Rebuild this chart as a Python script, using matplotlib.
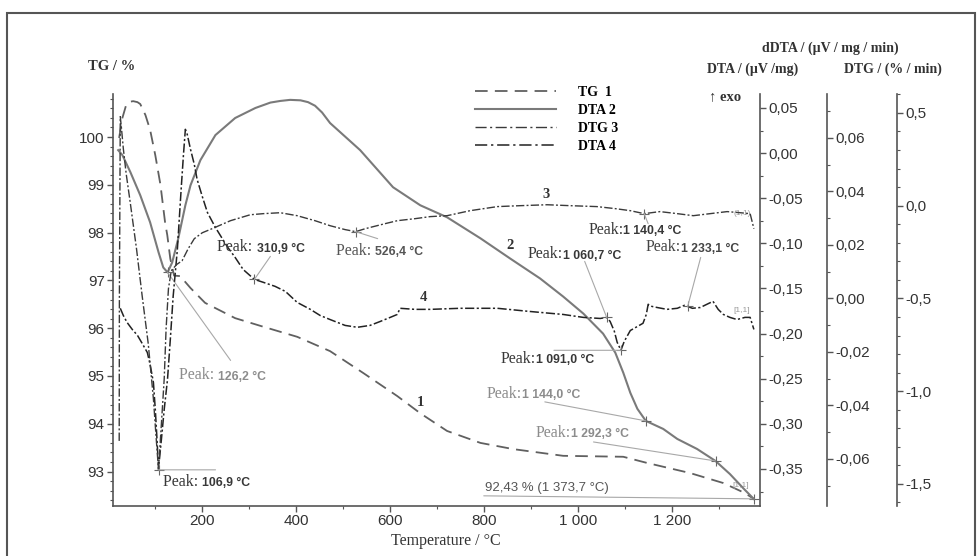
import numpy as np
import matplotlib
matplotlib.use("Agg")
import matplotlib.pyplot as plt
from matplotlib.lines import Line2D
from matplotlib.patches import Rectangle
from matplotlib.ticker import FixedLocator, FixedFormatter, MultipleLocator

SERIF = ["Liberation Serif", "DejaVu Serif"]
SANS = ["Liberation Sans", "DejaVu Sans"]

# curve 1: TG (%)
tg_temp = [23, 30, 38, 47, 53, 62, 68, 79, 89, 100, 111, 121, 125.5, 132, 140, 153, 175, 206, 270,
           330, 402, 472, 543, 615, 664, 721, 792, 862, 968, 1096, 1147, 1238, 1309, 1355, 1373.7]
tg_val = [99.98, 100.40, 100.67, 100.74, 100.75, 100.73, 100.69, 100.46, 100.15, 99.62, 99.00,
          98.20, 97.95, 97.45, 97.10, 97.09, 96.84, 96.53, 96.21, 96.03, 95.82, 95.52, 95.06, 94.58,
          94.22, 93.85, 93.60, 93.47, 93.33, 93.31, 93.18, 92.97, 92.76, 92.55, 92.43]

# curve 2: DTA (uV/mg)
dta_temp = [21, 30, 47, 68, 89, 107, 117, 126.2, 136, 149, 164, 175, 196, 228, 270, 313, 345, 366,
            387, 409, 425, 440, 455, 472, 536, 606, 664, 721, 792, 855, 919, 968, 1011, 1053, 1079,
            1096, 1111, 1126, 1144, 1181, 1211, 1253, 1292.3, 1323, 1351, 1374]
dta_val = [0.0033, -0.0022, -0.0211, -0.0467, -0.0767, -0.110, -0.1267, -0.1322, -0.1211, -0.0944,
           -0.0578, -0.0356, -0.0078, 0.020, 0.0389, 0.050, 0.0560, 0.0578, 0.0590, 0.0585, 0.0565,
           0.0525, 0.0450, 0.0333, 0.0033, -0.0378, -0.0578, -0.0711, -0.0944, -0.1167, -0.1389,
           -0.1589, -0.1778, -0.200, -0.2211, -0.2433, -0.2656, -0.2833, -0.2967, -0.3056,
           -0.3167, -0.3278, -0.3411, -0.3556, -0.3711, -0.3833]

# curve 3: DTG (%/min)
dtg_temp = [23.2, 23.6, 25.5, 27.7, 32, 38, 47, 60, 72, 85, 96, 102, 106.9, 111, 115, 119, 123,
            128, 134, 145, 157, 170, 183, 200, 221, 260, 302, 330, 366, 402, 440, 472, 504, 526.4,
            547, 564, 589, 615, 653, 685, 721, 770, 828, 877, 934, 983, 1040, 1079, 1111, 1140.4,
            1174, 1211, 1245, 1281, 1317, 1345, 1366, 1374]
dtg_val = [-1.268, -0.502, 0.480, 0.426, 0.307, 0.173, 0.011, -0.232, -0.485, -0.744, -1.041,
           -1.257, -1.424, -1.257, -1.095, -0.933, -0.663, -0.448, -0.351, -0.318, -0.297, -0.232,
           -0.178, -0.146, -0.124, -0.081, -0.049, -0.043, -0.038, -0.054, -0.081, -0.108, -0.129,
           -0.140, -0.124, -0.113, -0.097, -0.081, -0.070, -0.059, -0.054, -0.027, -0.005, 0.000,
           0.005, 0.000, -0.005, -0.016, -0.027, -0.043, -0.032, -0.043, -0.054, -0.043, -0.032,
           -0.038, -0.043, -0.124]

# curve 4: dDTA (uV/mg/min)
ddta_temp = [25.5, 32, 40, 51, 62, 72, 83, 89, 96, 100, 104, 106.9, 113, 119, 126, 132, 138, 147,
             155, 160, 164, 168, 175, 183, 189, 200, 211, 228, 253, 270, 287, 310.9, 330, 355, 377,
             402, 430, 451, 472, 504, 530, 557, 579, 600, 615, 621, 653, 685, 749, 828, 898, 968,
             1011, 1047, 1060.7, 1068, 1077, 1083, 1091.0, 1098, 1111, 1126, 1138, 1145, 1149, 1157,
             1168, 1189, 1211, 1226, 1233.1, 1243, 1260, 1274, 1287, 1298, 1309, 1323, 1338, 1355,
             1366, 1374]
ddta_val = [-0.0037, -0.0064, -0.0090, -0.0116, -0.0138, -0.0168, -0.0202, -0.0247, -0.0314,
            -0.0415, -0.0538, -0.0636, -0.0527, -0.0415, -0.0303, -0.0153, 0.0007, 0.0183, 0.0407,
            0.0538, 0.0632, 0.0613, 0.0557, 0.0501, 0.0445, 0.0381, 0.0321, 0.0265, 0.0194, 0.0153,
            0.0108, 0.0071, 0.0060, 0.0045, 0.0026, -0.0015, -0.0041, -0.0064, -0.0079, -0.0101,
            -0.0108, -0.0101, -0.0086, -0.0071, -0.0060, -0.0037, -0.0041, -0.0041, -0.0037,
            -0.0037, -0.0049, -0.0060, -0.0071, -0.0075, -0.0071, -0.0086, -0.0123, -0.0164,
            -0.0194, -0.0161, -0.0120, -0.0105, -0.0093, -0.0060, -0.0022, -0.0030, -0.0034,
            -0.0041, -0.0037, -0.0026, -0.0030, -0.0037, -0.0034, -0.0022, -0.0011, -0.0041,
            -0.0060, -0.0071, -0.0079, -0.0071, -0.0071, -0.0116]

x_ticks = [200, 400, 600, 800, 1000, 1200]
x_tick_labels = ["200", "400", "600", "800", "1 000", "1 200"]
tg_ticks = [93, 94, 95, 96, 97, 98, 99, 100]
tg_tick_labels = ["93", "94", "95", "96", "97", "98", "99", "100"]
dta_ticks = [-0.35, -0.30, -0.25, -0.20, -0.15, -0.10, -0.05, 0.00, 0.05]
dta_tick_labels = ["-0,35", "-0,30", "-0,25", "-0,20", "-0,15", "-0,10", "-0,05", "0,00", "0,05"]
ddta_ticks = [-0.06, -0.04, -0.02, 0.00, 0.02, 0.04, 0.06]
ddta_tick_labels = ["-0,06", "-0,04", "-0,02", "0,00", "0,02", "0,04", "0,06"]
dtg_ticks = [-1.5, -1.0, -0.5, 0.0, 0.5]
dtg_tick_labels = ["-1,5", "-1,0", "-0,5", "0,0", "0,5"]

legend_labels = ["TG  1", "DTA 2", "DTG 3", "DTA 4"]
curve_numbers = ["1", "2", "3", "4"]
curve_number_temp = [664, 855, 932, 670]
curve_number_tg = [94.44, 97.74, 98.79, 96.65]

# peaks: curve, temperature, prefix, value text
peak_curve = ["dtg", "dta", "ddta", "dtg", "ddta", "dtg", "ddta", "ddta", "dta", "dta"]
peak_temp = [106.9, 126.2, 310.9, 526.4, 1060.7, 1140.4, 1233.1, 1091.0, 1144.0, 1292.3]
peak_prefix = ["Peak: ", "Peak: ", "Peak: ", "Peak: ", "Peak:", "Peak:", "Peak:", "Peak:", "Peak:", "Peak:"]
peak_text = ["106,9 °C", "126,2 °C", "310,9 °C", "526,4 °C", "1 060,7 °C", "1 140,4 °C",
             "1 233,1 °C", "1 091,0 °C", "1 144,0 °C", "1 292,3 °C"]
tg_end_text = "92,43 % (1 373,7 °C)"

# layout of the peak labels (pixels from marker)
peak_text_off = [(4, -12), (11, -103), (-37, 32), (-20, -19), (-79, 63), (-56, -16),
                 (-42, 59), (-120, -9), (-159, 27), (-180, 28)]
peak_lead_off = [(57, 0), (63, -88), (16, 23), (22, -7), (-22, 56), (4, -10),
                 (13, 49), (-67, 0), (-101, 19), (-122, 19)]
peak_color = ["#383838", "#8c8c8c", "#383838", "#555555", "#383838", "#383838",
              "#444444", "#383838", "#8c8c8c", "#8c8c8c"]

fig = plt.figure(figsize=(9.8, 5.56), dpi=100)
ax = fig.add_axes([113 / 980, 1 - 506 / 556, 647 / 980, 412 / 556])
ax_dta = ax.twinx()
ax_ddta = ax.twinx()
ax_dtg = ax.twinx()
ax_ddta.spines["right"].set_position(("axes", 1.1036))
ax_dtg.spines["right"].set_position(("axes", 1.2117))

spine_col = "#555555"
for a in [ax, ax_dta, ax_ddta, ax_dtg]:
    for s in a.spines.values():
        s.set_color(spine_col)
        s.set_linewidth(1.2)
    a.spines["top"].set_visible(False)
for a in [ax_dta, ax_ddta, ax_dtg]:
    a.spines["left"].set_visible(False)
    a.spines["bottom"].set_visible(False)
ax.spines["right"].set_visible(False)

ax.set_xlim(10, 1387)
ax.set_ylim(92.28, 100.90)
ax_dta.set_ylim(-0.391, 0.0655)
ax_ddta.set_ylim(-0.0776, 0.0764)
ax_dtg.set_ylim(-1.619, 0.602)

ax.xaxis.set_major_locator(FixedLocator(x_ticks))
ax.xaxis.set_major_formatter(FixedFormatter(x_tick_labels))
ax.xaxis.set_minor_locator(MultipleLocator(100))
ax.yaxis.set_major_locator(FixedLocator(tg_ticks))
ax.yaxis.set_major_formatter(FixedFormatter(tg_tick_labels))
ax.yaxis.set_minor_locator(MultipleLocator(0.2))
ax_dta.yaxis.set_major_locator(FixedLocator(dta_ticks))
ax_dta.yaxis.set_major_formatter(FixedFormatter(dta_tick_labels))
ax_dta.yaxis.set_minor_locator(MultipleLocator(0.025))
ax_ddta.yaxis.set_major_locator(FixedLocator(ddta_ticks))
ax_ddta.yaxis.set_major_formatter(FixedFormatter(ddta_tick_labels))
ax_ddta.yaxis.set_minor_locator(MultipleLocator(0.01))
ax_dtg.yaxis.set_major_locator(FixedLocator(dtg_ticks))
ax_dtg.yaxis.set_major_formatter(FixedFormatter(dtg_tick_labels))
ax_dtg.yaxis.set_minor_locator(MultipleLocator(0.1))

for a in [ax, ax_dta, ax_ddta, ax_dtg]:
    a.tick_params(which="major", direction="out", length=4, width=1, color=spine_col,
                  labelcolor="#333333", labelsize=11, pad=2)
    a.tick_params(which="minor", direction="out", length=2.5, width=0.8, color=spine_col)
    for lab in a.get_xticklabels() + a.get_yticklabels():
        lab.set_family(SANS)

dashdot = (6, 1.6, 1.4, 1.6)
ax.plot(tg_temp, tg_val, color="#606060", lw=1.3, dashes=(7, 4))
ax_dta.plot(dta_temp, dta_val, color="#7a7a7a", lw=1.5)
ax_dtg.plot(dtg_temp, dtg_val, color="#3a3a3a", lw=1.0, dashes=dashdot)
ax_ddta.plot(ddta_temp, ddta_val, color="#222222", lw=1.1, dashes=dashdot)

curves = {"tg": (ax, tg_temp, tg_val), "dta": (ax_dta, dta_temp, dta_val),
          "dtg": (ax_dtg, dtg_temp, dtg_val), "ddta": (ax_ddta, ddta_temp, ddta_val)}

for i in range(len(peak_temp)):
    a, xs, ys = curves[peak_curve[i]]
    t = peak_temp[i]
    v = np.interp(t, xs, ys)
    a.annotate("", xy=(t, v), xytext=peak_lead_off[i], textcoords="offset pixels",
               arrowprops=dict(arrowstyle="-", color="#a8a8a8", lw=0.8, shrinkA=0, shrinkB=0))
    a.plot([t], [v], marker="+", ms=7, mew=0.8, color="#666666")
    t1 = a.annotate(peak_prefix[i], xy=(t, v), xytext=peak_text_off[i], textcoords="offset pixels",
                    family=SERIF, fontsize=11.5, color=peak_color[i], va="center", ha="left")
    a.annotate(peak_text[i], xy=(1, 0.05), xycoords=t1, va="bottom", ha="left",
               family=SANS, fontsize=8.8, fontweight="bold", color=peak_color[i])

t_end, v_end = tg_temp[-1], tg_val[-1]
ax.annotate("", xy=(t_end, v_end), xytext=(-270, 3), textcoords="offset pixels",
            arrowprops=dict(arrowstyle="-", color="#a8a8a8", lw=0.8, shrinkA=0, shrinkB=0))
ax.plot([t_end], [v_end], marker="+", ms=7, mew=0.8, color="#666666")
ax.annotate(tg_end_text, xy=(t_end, v_end), xytext=(-269, 11), textcoords="offset pixels",
            family=SANS, fontsize=9.5, color="#555555", va="center", ha="left")

for a_lab, a_t, a_y in [("[1,1]", 1349, 96.38), ("[1,1]", 1345, 92.70), ("(1,1)", 1349, 98.41)]:
    ax.text(a_t, a_y, a_lab, fontsize=6, color="#999999", family=SANS, ha="center", va="center")

for n, t, y in zip(curve_numbers, curve_number_temp, curve_number_tg):
    ax.text(t, y, n, family=SERIF, fontweight="bold", fontsize=10.5, color="#333333",
            ha="center", va="center")

handles = [Line2D([], [], color="#606060", lw=1.3, dashes=(7, 4)),
           Line2D([], [], color="#7a7a7a", lw=1.5),
           Line2D([], [], color="#3a3a3a", lw=1.0, dashes=(8, 2.5, 1.5, 2.5)),
           Line2D([], [], color="#222222", lw=1.1, dashes=(8, 2.5, 1.5, 2.5))]
fig.legend(handles, legend_labels, loc="upper left", bbox_to_anchor=(475 / 980, 1 - 86 / 556),
           frameon=False, prop=dict(family=SERIF, weight="bold", size=10),
           handlelength=5.8, handletextpad=1.6, labelspacing=0.35, borderpad=0, borderaxespad=0)

def ftext(px, py, s, **kw):
    fig.text(px / 980, 1 - py / 556, s, ha="center", va="center", **kw)

ftext(112, 67, "TG / %", family=SERIF, fontweight="bold", fontsize=10.5, color="#333333")
ftext(753, 69, "DTA / (µV /mg)", family=SERIF, fontweight="bold", fontsize=10, color="#333333")
ftext(830, 48, "dDTA / (µV / mg / min)", family=SERIF, fontweight="bold", fontsize=10, color="#333333")
ftext(893, 69, "DTG / (% / min)", family=SERIF, fontweight="bold", fontsize=10, color="#333333")
ftext(725, 97, "↑ exo", family=SERIF, fontweight="bold", fontsize=10.5, color="#333333")
ftext(446, 541, "Temperature / °C", family=SERIF, fontsize=11.5, color="#333333")

fig.patches.append(Rectangle((7 / 980, -0.01), 968 / 980, 1 - 13 / 556 + 0.01,
                             transform=fig.transFigure, fill=False, lw=1.5, ec="#555555"))

fig.savefig("out.png", dpi=100)
